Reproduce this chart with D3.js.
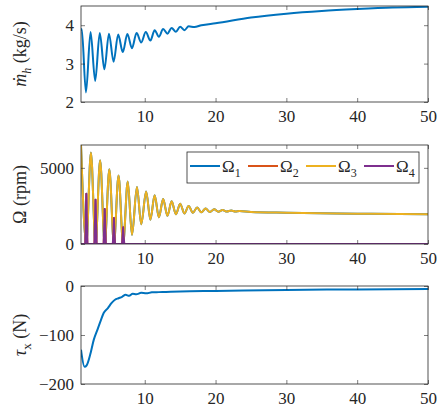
<!DOCTYPE html>
<html><head><meta charset="utf-8">
<script src="https://cdn.jsdelivr.net/npm/d3@7"></script>
<style>body{margin:0;background:#fff}svg{display:block}</style>
</head><body><svg id="c" width="440" height="413"></svg>
<script>
const xTicks=[10,20,30,40,50];
// panel 1: mass flow
const mhT=[1,1.1,1.7,2.35,3.0,3.65,4.3,4.95,5.6,6.25,6.9,7.55,8.2,8.85,9.5,10.15,10.8,11.4,12,12.6,13.2,13.8,14.4,15,15.6,16.2,17,18,20,25,30,35,40,45,50];
const mhV=[3.85,3.9,2.25,3.82,2.55,3.8,2.85,3.78,3.05,3.76,3.3,3.77,3.4,3.8,3.55,3.82,3.6,3.87,3.7,3.9,3.78,3.93,3.83,3.96,3.87,3.97,3.95,4.0,4.05,4.2,4.3,4.37,4.42,4.46,4.48];
const mhTicks=[2,3,4];
// panel 2: rotor speeds
const o3T=[1,1.75,2.4,3.05,3.7,4.35,5.0,5.65,6.3,6.95,7.6,8.2,8.9,9.5,10.2,10.8,11.4,12,12.6,13.2,13.8,14.4,15,15.6,16.2,16.8,17.4,18,18.6,19.2,19.8,20.4,21,21.6,22.2,22.8,23.4,25,30,40,50];
const o3V=[6500,0,6000,0,5500,0,4900,0,4500,0,4100,600,3750,1300,3450,1600,3200,1750,2950,1850,2800,1950,2650,2000,2500,2050,2400,2080,2330,2100,2280,2120,2230,2130,2200,2130,2170,2100,2050,1990,1950];
const o4T=[1,1.6,1.75,1.9,2.9,3.05,3.2,4.2,4.35,4.5,5.5,5.65,5.8,6.8,6.95,7.1,50];
const o4V=[0,0,3300,0,0,2900,0,0,2300,0,0,1700,0,0,1100,0,0];
const o1T=o3T, o1V=o3V, o2T=o4T, o2V=o4V;
const omTicks=[0,5000];
const legendNames=["1","2","3","4"];
// panel 3: torque
const tauT=[1,1.5,1.8,2.3,2.8,3.3,3.8,4.2,4.8,5.3,5.8,6.3,6.8,7.3,7.8,8.3,8.8,9.5,10.2,11,12,13,15,20,30,40,50];
const tauV=[-130,-165,-162,-140,-110,-90,-70,-55,-45,-35,-28,-25,-22,-18,-20,-16,-17,-14,-15,-13,-12.5,-12,-11,-10,-8,-7,-6];
const tauTicks=[-200,-100,0];
const colors=["#0072BD","#D95319","#EDB120","#7E2F8E"];
const FONT="'Liberation Serif','Times New Roman',Tinos,'DejaVu Serif',serif";

const svg=d3.select("#c");
const L=81,R=428;
const x=d3.scaleLinear().domain([1,50]).range([L,R]);
function panel(top,bot,dom,yt,series,label){
  const y=d3.scaleLinear().domain(dom).range([bot,top]);
  const g=svg.append("g");
  const clip="cl"+top;
  g.append("clipPath").attr("id",clip).append("rect").attr("x",L).attr("y",top).attr("width",R-L).attr("height",bot-top);
  series.forEach(s=>{
    g.append("path").attr("clip-path",`url(#${clip})`).datum(d3.zip(s.t,s.v))
     .attr("fill","none").attr("stroke",s.c).attr("stroke-width",2).attr("stroke-linejoin","round")
     .attr("d",d3.line().x(d=>x(d[0])).y(d=>y(d[1])).curve(s.lin?d3.curveLinear:d3.curveMonotoneX));
  });
  const ax=(gen,tr)=>{const a=g.append("g").attr("transform",tr).attr("font-family",FONT).call(gen);a.attr("font-family",FONT);a.select(".domain").remove();a.selectAll("line").attr("stroke","#262626").attr("stroke-width",0.6);a.selectAll("text").attr("font-size",17).attr("fill","#262626");return a;};
  const f=d3.format("d");
  ax(d3.axisBottom(x).tickValues(xTicks).tickSize(-4).tickPadding(8).tickFormat(f),`translate(0,${bot})`);
  ax(d3.axisTop(x).tickValues(xTicks).tickSize(-4).tickFormat(""),`translate(0,${top})`);
  ax(d3.axisLeft(y).tickValues(yt).tickSize(-4).tickPadding(7).tickFormat(f),`translate(${L},0)`);
  ax(d3.axisRight(y).tickValues(yt).tickSize(-4).tickFormat(""),`translate(${R},0)`);
  g.append("rect").attr("x",L).attr("y",top).attr("width",R-L).attr("height",bot-top).attr("fill","none").attr("stroke","#262626").attr("stroke-width",0.8);
  label(g,(top+bot)/2);
  return y;
}
panel(6,102,[2,4.5],mhTicks,[{t:mhT,v:mhV,c:colors[0]}],(g,cy)=>{
  const t=g.append("text").attr("transform",`translate(26,${cy}) rotate(-90)`).attr("text-anchor","middle").attr("font-size",18);
  t.append("tspan").attr("font-style","italic").text("ṁ");
  t.append("tspan").attr("font-style","italic").attr("font-size",12).attr("dy",5).text("h");
  t.append("tspan").attr("dy",-5).text(" (kg/s)");
});
panel(145,244,[0,6500],omTicks,[
  {t:o1T,v:o1V,c:colors[0]},{t:o2T,v:o2V,c:colors[1],lin:true},{t:o3T,v:o3V,c:colors[2]},{t:o4T,v:o4V,c:colors[3],lin:true}],(g,cy)=>{
  g.append("text").attr("transform",`translate(26,${cy}) rotate(-90)`).attr("text-anchor","middle").attr("font-size",18).text("Ω (rpm)");
  const lg=g.append("g");
  lg.append("rect").attr("x",187).attr("y",152).attr("width",232).attr("height",31).attr("fill","#fff").attr("stroke","#262626").attr("stroke-width",0.8);
  legendNames.forEach((n,i)=>{
    const x0=190+i*58;
    lg.append("line").attr("x1",x0).attr("x2",x0+30).attr("y1",166).attr("y2",166).attr("stroke",colors[i]).attr("stroke-width",2);
    const t=lg.append("text").attr("x",x0+32).attr("y",172).attr("font-size",17);
    t.append("tspan").text("Ω");
    t.append("tspan").attr("font-size",12).attr("dy",5).text(n);
  });
});
panel(286,384,[-200,0],tauTicks,[{t:tauT,v:tauV,c:colors[0]}],(g,cy)=>{
  const t=g.append("text").attr("transform",`translate(26,${cy}) rotate(-90)`).attr("text-anchor","middle").attr("font-size",18);
  t.append("tspan").attr("font-style","italic").text("τ");
  t.append("tspan").attr("font-size",13).attr("dy",5).text("x");
  t.append("tspan").attr("dy",-5).text(" (N)");
});
svg.selectAll("text").attr("font-family",FONT).style("font-family",FONT).attr("fill","#262626");
</script></body></html>
